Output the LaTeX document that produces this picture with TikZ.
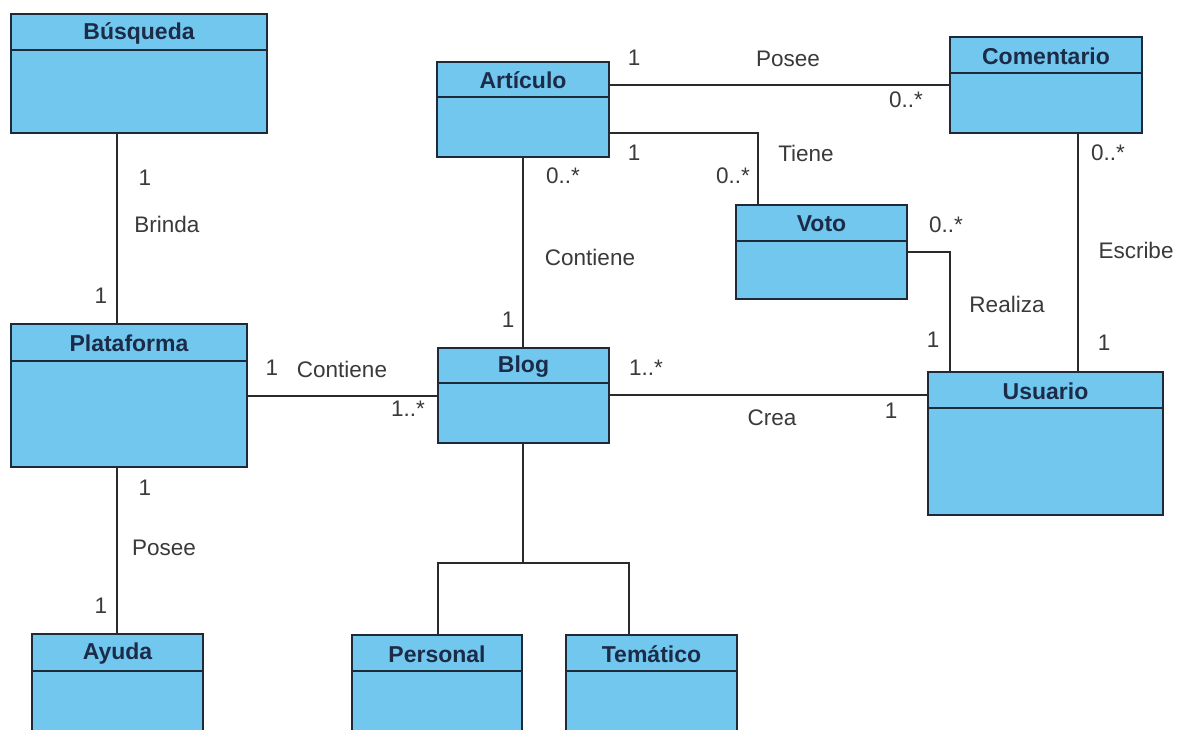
\documentclass[tikz,border=0pt]{standalone}
\usepackage{fontspec}
\setmainfont{Liberation Sans}
\definecolor{boxfill}{HTML}{72C7EF}
\definecolor{boxline}{HTML}{1E2A38}
\definecolor{titlecol}{HTML}{1C2C48}
\definecolor{lblcol}{HTML}{3A3A3A}
\definecolor{linecol}{HTML}{2A2A2A}
\tikzset{
  cls/.style={draw=boxline, fill=boxfill, line width=1.4pt, rectangle, inner sep=0pt, outer sep=0pt, anchor=north west},
  ttl/.style={font=\bfseries\fontsize{23}{26}\selectfont, text=titlecol, inner sep=0pt},
  lbl/.style={font=\fontsize{22.5}{26}\selectfont, text=lblcol, inner sep=0pt},
  conn/.style={draw=linecol, line width=1.6pt},
  divline/.style={draw=boxline, line width=1.4pt}
}
\newcommand\umlbox[7]{%
  \node[cls, minimum width={(#5)-(#3)}, minimum height={(#6)-(#4)}] (#1) at (#3,#4) {};
  \draw[divline] (#1.west |- 0,#7) -- (#1.east |- 0,#7);
  \node[ttl] (#1-t) at ({((#3)+(#5))/2},{((#4)+(#7))/2+1}) {#2};
}
\begin{document}
\begin{tikzpicture}[x=1pt,y=-1pt]
\useasboundingbox[fill=white] (0,0) rectangle (1177,730);
\coordinate (c1) at (758,133);
\coordinate (c2) at (950,252);
\coordinate (c3) at (523,563);
\coordinate (c4) at (438,563);
\coordinate (c5) at (629,563);
% classes
\umlbox{busq}{Búsqueda}{11}{14}{267}{133}{50}
\umlbox{plat}{Plataforma}{11}{324}{247}{467}{361}
\umlbox{ayuda}{Ayuda}{32}{634}{203}{733}{671}
\umlbox{art}{Artículo}{437}{62}{609}{157}{97}
\umlbox{blog}{Blog}{438}{348}{609}{443}{383}
\umlbox{voto}{Voto}{736}{205}{907}{299}{241}
\umlbox{coment}{Comentario}{950}{37}{1142}{133}{73}
\umlbox{usu}{Usuario}{928}{372}{1163}{515}{408}
\umlbox{pers}{Personal}{352}{635}{522}{733}{671}
\umlbox{tema}{Temático}{566}{635}{737}{733}{671}
% lines
\draw[conn] (busq.south -| 117,0) -- (plat.north -| 117,0);
\draw[conn] (plat.south -| 117,0) -- (ayuda.north -| 117,0);
\draw[conn] (plat.east |- 0,396) -- (blog.west |- 0,396);
\draw[conn] (art.south -| 523,0) -- (blog.north -| 523,0);
\draw[conn] (art.east |- 0,85) -- (coment.west |- 0,85);
\draw[conn] (art.east |- c1) -- (c1) -- (voto.north -| c1);
\draw[conn] (voto.east |- c2) -- (c2) -- (usu.north -| c2);
\draw[conn] (coment.south -| 1078,0) -- (usu.north -| 1078,0);
\draw[conn] (blog.east |- 0,395) -- (usu.west |- 0,395);
\draw[conn] (blog.south -| c3) -- (c3);
\draw[conn] (pers.north -| c4) -- (c4) -- (c5) -- (tema.north -| c5);
% labels
\node[lbl] (l1) at (145,178) {1};
\node[lbl] (l2) at (167,224) {Brinda};
\node[lbl] (l3) at (101,296) {1};
\node[lbl] (l4) at (145,488) {1};
\node[lbl] (l5) at (164,548) {Posee};
\node[lbl] (l6) at (101,606) {1};
\node[lbl] (l7) at (272,368) {1};
\node[lbl] (l8) at (342,369) {Contiene};
\node[lbl] (l9) at (408,409) {1..*};
\node[lbl] (l10) at (563,176) {0..*};
\node[lbl] (l11) at (590,257) {Contiene};
\node[lbl] (l12) at (508,320) {1};
\node[lbl] (l13) at (634,58) {1};
\node[lbl] (l14) at (788,59) {Posee};
\node[lbl] (l15) at (906,100) {0..*};
\node[lbl] (l16) at (634,153) {1};
\node[lbl] (l17) at (806,153) {Tiene};
\node[lbl] (l18) at (733,176) {0..*};
\node[lbl] (l19) at (946,225) {0..*};
\node[lbl] (l20) at (1007,304) {Realiza};
\node[lbl] (l21) at (933,340) {1};
\node[lbl] (l22) at (1108,153) {0..*};
\node[lbl] (l23) at (1136,250) {Escribe};
\node[lbl] (l24) at (1104,343) {1};
\node[lbl] (l25) at (646,368) {1..*};
\node[lbl] (l26) at (772,418) {Crea};
\node[lbl] (l27) at (891,411) {1};
\end{tikzpicture}
\end{document}
